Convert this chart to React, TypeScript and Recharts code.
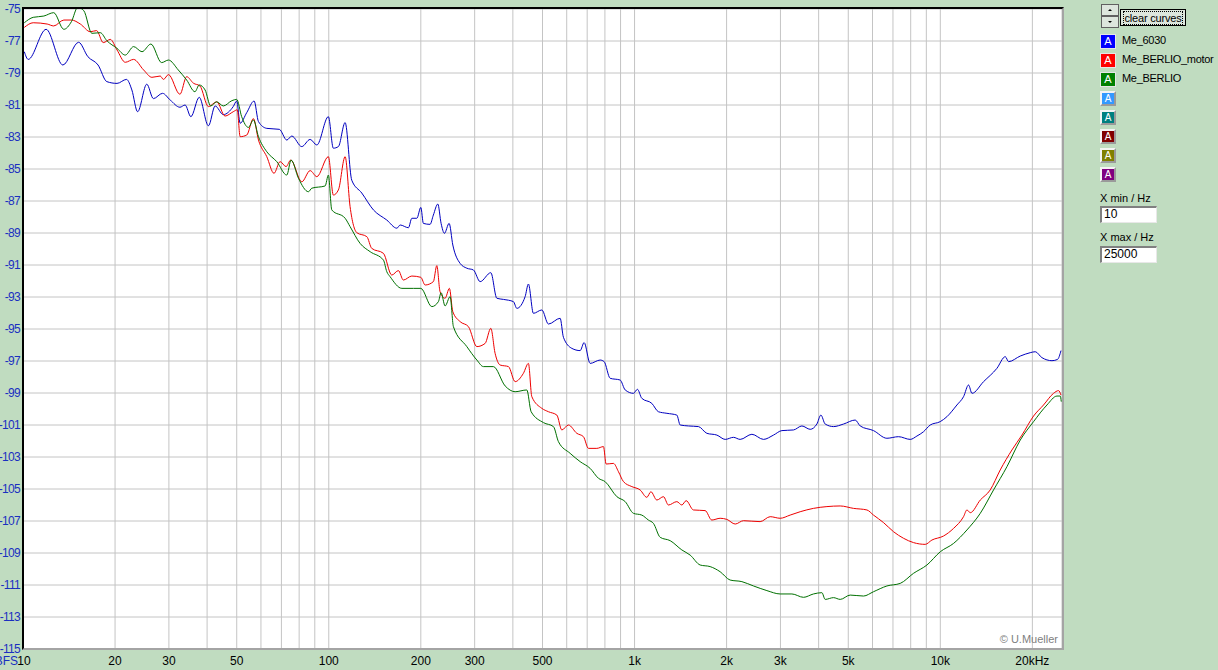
import React from "react";
import { LineChart, Line, XAxis, YAxis, CartesianGrid } from "recharts";

// ---------- data ----------
const blueFreq = [10.1, 10.4, 11.9, 13.5, 15.2, 16.3, 17.6, 18.8, 20.3, 21.8, 22.7, 23.7, 25.4, 26.7, 28.6, 30.3, 32.6, 33.9, 35.4, 37.7, 40.4, 42.5, 45.2, 48.7, 50.0, 51.3, 53.9, 57.0, 58.9, 62.7, 68.9, 72.9, 75.7, 81.6, 86.9, 91.4, 99.7, 103.5, 107.5, 113.1, 118.9, 128.2, 140, 154.8, 167, 171.2, 182.2, 186.9, 194.1, 200, 203.9, 214.4, 219.8, 227.3, 233, 238.9, 247.5, 254.5, 268.9, 282.8, 297.2, 312.6, 338.8, 354.5, 372.6, 401.7, 412.1, 438.6, 449.7, 466.9, 497.6, 522.9, 571, 585.4, 623.6, 663.8, 684.1, 715.7, 771.8, 795.4, 832.2, 897.4, 932, 991.7, 1022, 1056, 1139, 1197, 1276, 1375, 1410, 1501, 1619, 1724, 1859, 1979, 2106, 2215, 2420, 2641, 2847, 3033, 3310, 3526, 3753, 3947, 4068, 4202, 4474, 4825, 5268, 5470, 6046, 6689, 7299, 7972, 8384, 8812, 9268, 9992, 10510, 11330, 11910, 12370, 12690, 13850, 15310, 16310, 16720, 18260, 19680, 20440, 21490, 23180, 24180, 24810];
const blueDb = [-77.67, -78.15, -76.27, -78.5, -77.08, -77.98, -78.5, -79.54, -79.65, -79.4, -80.06, -81.42, -79.7, -80.6, -80.27, -80.69, -81.14, -81.0, -81.73, -80.52, -82.3, -81.06, -81.6, -81.1, -80.75, -82.14, -81.48, -80.75, -82.04, -82.46, -82.52, -83.19, -82.94, -83.6, -83.15, -83.5, -81.73, -83.7, -83.6, -82.1, -85.7, -86.5, -87.56, -88.19, -88.7, -88.5, -88.67, -88.08, -88.08, -87.4, -88.4, -88.46, -87.88, -87.19, -88.4, -89.02, -88.4, -89.75, -90.9, -91.2, -91.31, -92.04, -91.48, -93.08, -93.15, -93.29, -93.71, -92.98, -92.19, -94.02, -93.81, -94.69, -94.33, -95.52, -96.21, -96.35, -95.85, -97.15, -96.94, -97.04, -98.08, -98.19, -98.81, -99.02, -98.77, -99.33, -99.65, -100.17, -100.27, -100.38, -101.0, -101.06, -101.1, -101.52, -101.63, -101.9, -101.77, -101.9, -101.58, -101.9, -101.63, -101.35, -101.31, -101.06, -101.27, -100.94, -100.38, -100.94, -101.1, -100.94, -100.69, -101.06, -101.35, -101.83, -101.73, -101.9, -101.69, -101.42, -101.0, -100.79, -100.48, -99.75, -99.23, -98.5, -99.02, -98.29, -97.46, -96.73, -97.04, -96.69, -96.48, -96.42, -96.79, -96.98, -96.9, -96.35];

const redFreq = [10.1, 10.8, 12.0, 12.6, 13.6, 14.4, 15.4, 16.6, 17.4, 18.3, 19.3, 20.3, 21.6, 23.0, 24.8, 26.4, 28.1, 28.8, 29.9, 32.6, 34.3, 36.1, 37.9, 40.4, 43.0, 45.8, 48.7, 50.2, 51.3, 53.9, 56.7, 58.9, 62.7, 66.2, 69.3, 72.5, 75.1, 81.6, 86.9, 91.4, 99.7, 103.5, 107.5, 113.1, 117.4, 123.5, 133.2, 138.2, 150.9, 160.7, 168.9, 175.4, 186.9, 200, 206.6, 219.8, 225.6, 231.2, 240.1, 248, 254.5, 268.9, 286.2, 305, 324.6, 338.8, 349.9, 363.4, 386.9, 406.9, 433, 449.7, 461.4, 497.6, 522.9, 557, 578.4, 607.8, 647.5, 680.5, 706.7, 752.8, 791.2, 807.4, 853.2, 886, 920, 979.9, 1043, 1097, 1131, 1183, 1243, 1291, 1375, 1428, 1475, 1558, 1702, 1789, 1905, 2004, 2134, 2271, 2575, 2777, 2994, 3228, 3481, 3847, 4257, 4706, 5200, 5754, 6046, 6520, 7031, 7579, 8172, 8926, 9387, 10240, 11050, 11910, 12220, 12530, 13510, 14560, 15700, 17150, 18490, 20180, 21750, 23460, 24360, 24810];
const redDb = [-76.15, -75.86, -75.94, -76.06, -75.69, -75.69, -75.94, -76.42, -76.35, -77.1, -76.9, -77.56, -78.33, -78.15, -78.81, -79.27, -79.19, -79.4, -79.1, -80.33, -79.23, -79.64, -79.81, -81.1, -80.8, -81.69, -81.42, -81.3, -82.98, -82.88, -81.85, -83.19, -84.23, -85.27, -84.54, -84.85, -84.44, -85.8, -85.1, -85.48, -84.23, -86.63, -86.31, -84.23, -87.35, -88.98, -89.23, -89.96, -90.27, -91.63, -91.35, -91.94, -91.69, -91.77, -92.25, -92.04, -91.04, -92.67, -93.08, -92.46, -93.92, -94.54, -94.85, -96.1, -95.9, -94.96, -96.52, -97.25, -97.35, -98.29, -97.77, -97.15, -99.23, -99.96, -100.17, -100.38, -101.31, -101.0, -101.52, -101.73, -102.46, -102.46, -102.35, -103.44, -103.4, -103.92, -104.54, -104.85, -105.06, -105.52, -105.17, -105.69, -105.48, -106.0, -105.79, -106.0, -105.73, -106.31, -106.35, -106.94, -106.83, -106.9, -107.19, -106.98, -107.04, -106.73, -106.83, -106.63, -106.42, -106.21, -106.1, -106.06, -106.21, -106.31, -106.63, -107.1, -107.67, -108.08, -108.35, -108.46, -108.19, -107.94, -107.46, -106.73, -106.31, -106.48, -105.69, -105.06, -103.81, -102.56, -101.63, -100.44, -99.75, -99.02, -98.85, -99.13];

const greenFreq = [10.1, 10.8, 11.7, 12.6, 13.6, 14.4, 15.1, 15.8, 16.8, 17.9, 18.8, 20.3, 21.6, 23.0, 24.5, 26.2, 28.4, 29.9, 32.2, 34.3, 36.5, 37.7, 39.4, 41.1, 43.0, 45.2, 48.2, 50.0, 51.9, 54.6, 56.7, 58.9, 62.7, 67.6, 72.9, 75.3, 79.6, 85.8, 88.0, 97.3, 99.7, 102.3, 113.1, 117.4, 126.6, 136.6, 150.9, 154.8, 158.7, 173.4, 189.2, 200, 217.3, 228.3, 233, 240.1, 249.4, 255.6, 282.8, 305, 320.5, 345.4, 377.4, 406.9, 444.3, 459, 503.6, 542.9, 563.7, 615.6, 663.8, 715.7, 762, 801.3, 875.4, 932, 991.7, 1056, 1110, 1153, 1213, 1308, 1428, 1520, 1639, 1767, 1905, 2054, 2244, 2449, 2709, 2994, 3270, 3569, 3847, 4099, 4202, 4474, 4706, 5073, 5607, 6046, 6689, 7393, 8172, 9041, 10000, 11050, 12220, 13510, 14930, 16520, 18260, 20180, 22320, 24070, 24680, 24860];
const greenDb = [-75.86, -75.52, -75.44, -75.23, -76.27, -75.79, -74.9, -75.1, -76.52, -76.48, -76.98, -77.46, -77.88, -77.35, -77.67, -77.19, -78.35, -78.19, -78.81, -79.44, -80.17, -79.75, -80.06, -81.06, -80.8, -81.06, -80.73, -80.65, -81.73, -82.4, -81.94, -82.98, -83.92, -84.54, -85.38, -84.44, -85.58, -86.42, -86.2, -86.06, -85.38, -87.56, -88.08, -88.6, -89.65, -90.17, -90.69, -91.42, -91.73, -92.46, -92.46, -92.46, -93.6, -93.29, -92.73, -93.56, -92.98, -94.85, -96.1, -96.94, -97.35, -97.35, -98.56, -98.92, -98.81, -100.17, -100.85, -101.1, -102.04, -102.77, -103.29, -103.71, -104.33, -104.54, -105.48, -105.79, -106.52, -106.63, -106.94, -107.15, -108.02, -108.23, -108.81, -109.13, -109.75, -109.85, -110.17, -110.69, -110.79, -111.06, -111.35, -111.56, -111.56, -111.77, -111.56, -111.48, -111.9, -111.79, -111.9, -111.63, -111.69, -111.42, -111.06, -110.9, -110.27, -109.75, -108.92, -108.4, -107.56, -106.52, -105.06, -103.6, -101.94, -100.79, -99.75, -99.19, -99.19, -99.54];

const xGridTicks = [10, 20, 30, 40, 50, 60, 70, 80, 90, 100, 200, 300, 400, 500, 600, 700, 800, 900, 1000, 2000, 3000, 4000, 5000, 6000, 7000, 8000, 9000, 10000, 20000];
const xLabelValues = [10, 20, 30, 50, 100, 200, 300, 500, 1000, 2000, 3000, 5000, 10000, 20000];
const xLabelTexts = ["10", "20", "30", "50", "100", "200", "300", "500", "1k", "2k", "3k", "5k", "10k", "20kHz"];
const yTicks = [-75, -77, -79, -81, -83, -85, -87, -89, -91, -93, -95, -97, -99, -101, -103, -105, -107, -109, -111, -113, -115];

const curveNames = ["Me_6030", "Me_BERLIO_motor", "Me_BERLIO", "", "", "", "", ""];
const curveColors = ["#0000ff", "#ff0000", "#008000", "#3399ff", "#008080", "#800000", "#808000", "#800080"];
const lineColors = ["#0000c0", "#ee0000", "#007000"];

const toPoints = (fs: number[], vs: number[]) => fs.map((f, i) => ({ f, v: vs[i] }));
const blueData = toPoints(blueFreq, blueDb);
const redData = toPoints(redFreq, redDb);
const greenData = toPoints(greenFreq, greenDb);

const FONT = '"Liberation Sans", Arial, sans-serif';
const AXIS_BLUE = "#1a2fc0";
const BG = "#c0dcc0";

const XTick = (props: any) => {
  const { x, y, payload } = props;
  const idx = xLabelValues.indexOf(payload.value);
  if (idx < 0) return <g />;
  const isFirst = payload.value === 10;
  return (
    <g>
      {isFirst && (
        <text x={x - 5} y={y + 16} textAnchor="end" fill={AXIS_BLUE} fontSize={12} fontFamily={FONT}>
          dBFS
        </text>
      )}
      <text x={isFirst ? x + 1 : x} y={y + 16} textAnchor="middle" fill="#000" fontSize={12} fontFamily={FONT}>
        {xLabelTexts[idx]}
      </text>
    </g>
  );
};

const YTick = (props: any) => {
  const { x, y, payload } = props;
  return (
    <text x={x} y={y + 4} textAnchor="end" fill={AXIS_BLUE} fontSize={12} letterSpacing={-0.7} fontFamily={FONT}>
      {String(payload.value)}
    </text>
  );
};

const SpinButton = () => (
  <svg width={18} height={24} style={{ position: "absolute", left: 1101, top: 4 }}>
    <rect x={0.5} y={0.5} width={17} height={11} fill="#dde6dd" stroke="#606060" />
    <rect x={0.5} y={12.5} width={17} height={11} fill="#dde6dd" stroke="#606060" />
    <polygon points="7,7 11,7 9,5" fill="#000" />
    <polygon points="7,17 11,17 9,19" fill="#000" />
  </svg>
);

const LegendBox = ({ i }: { i: number }) => {
  const active = curveNames[i] !== "";
  const top = 34 + 19 * i;
  return (
    <div style={{ position: "absolute", left: 1100, top, height: 16 }}>
      {active ? (
        <div
          style={{
            width: 16,
            height: 15,
            background: curveColors[i],
            border: "1px solid #e6e6e6",
            boxSizing: "border-box",
            color: "#fff",
            fontSize: 11,
            lineHeight: "13px",
            textAlign: "center",
            fontFamily: FONT,
          }}
        >
          A
        </div>
      ) : (
        <div
          style={{
            width: 16,
            height: 15,
            boxSizing: "border-box",
            borderTop: "2px solid #f4f4f4",
            borderLeft: "2px solid #f4f4f4",
            borderRight: "2px solid #9a9a9a",
            borderBottom: "2px solid #9a9a9a",
            background: "#d8d8d8",
            padding: 0,
          }}
        >
          <div
            style={{
              width: 12,
              height: 11,
              background: curveColors[i],
              color: "#fff",
              fontSize: 10,
              lineHeight: "11px",
              textAlign: "center",
              fontFamily: FONT,
            }}
          >
            A
          </div>
        </div>
      )}
      {active && (
        <div
          style={{
            position: "absolute",
            left: 22,
            top: 0,
            whiteSpace: "nowrap",
            fontSize: 11,
            letterSpacing: -0.3,
            lineHeight: "13px",
            color: "#000",
            fontFamily: FONT,
          }}
        >
          {curveNames[i]}
        </div>
      )}
    </div>
  );
};

const inputStyle = (top: number): React.CSSProperties => ({
  position: "absolute",
  left: 1100,
  top,
  width: 57,
  height: 17,
  boxSizing: "border-box",
  background: "#fff",
  borderTop: "2px solid #808080",
  borderLeft: "2px solid #808080",
  borderRight: "1px solid #e8e8e8",
  borderBottom: "1px solid #e8e8e8",
  fontSize: 12,
  lineHeight: "13px",
  paddingLeft: 2,
  fontFamily: FONT,
  color: "#000",
});

const labelStyle = (top: number): React.CSSProperties => ({
  position: "absolute",
  left: 1100,
  top,
  fontSize: 11,
  lineHeight: "13px",
  fontFamily: FONT,
  color: "#000",
  whiteSpace: "nowrap",
});

export default function App() {
  return (
    <div
      style={{
        position: "absolute",
        left: 0,
        top: 0,
        width: 1218,
        height: 670,
        background: BG,
        overflow: "hidden",
        fontFamily: FONT,
      }}
    >
      <div style={{ position: "absolute", left: 0, top: 0 }}>
        <LineChart width={1070} height={670} margin={{ top: 9, right: 8, bottom: 0, left: 0 }}>
          <CartesianGrid fill="#ffffff" stroke="#c4c4c4" strokeWidth={1} />
          <XAxis
            dataKey="f"
            type="number"
            scale="log"
            domain={[10, 25000]}
            allowDataOverflow
            ticks={xGridTicks}
            interval={0}
            tick={<XTick />}
            tickLine={false}
            axisLine={false}
            tickSize={0}
            tickMargin={0}
            height={21}
          />
          <YAxis
            type="number"
            domain={[-115, -75]}
            allowDataOverflow
            ticks={yTicks}
            interval={0}
            tick={<YTick />}
            tickLine={false}
            axisLine={false}
            tickSize={0}
            tickMargin={3}
            width={23}
          />
          <Line data={blueData} dataKey="v" stroke={lineColors[0]} strokeWidth={1} dot={false} isAnimationActive={false} type="monotone" />
          <Line data={redData} dataKey="v" stroke={lineColors[1]} strokeWidth={1} dot={false} isAnimationActive={false} type="monotone" />
          <Line data={greenData} dataKey="v" stroke={lineColors[2]} strokeWidth={1} dot={false} isAnimationActive={false} type="monotone" />
        </LineChart>
      </div>

      {/* sunken plot frame */}
      <div
        style={{
          position: "absolute",
          left: 22,
          top: 7,
          width: 1042,
          height: 643,
          boxSizing: "border-box",
          borderLeft: "2px solid #000",
          borderTop: "2px solid #000",
          borderRight: "2px solid #a4a4a4",
          borderBottom: "2px solid #a4a4a4",
          pointerEvents: "none",
        }}
      />

      <div
        style={{
          position: "absolute",
          right: 160,
          top: 633,
          fontSize: 11,
          color: "#808080",
          fontFamily: FONT,
          whiteSpace: "nowrap",
        }}
      >
        © U.Mueller
      </div>

      {/* right control panel */}
      <SpinButton />
      <div
        style={{
          position: "absolute",
          left: 1120,
          top: 9,
          width: 66,
          height: 17,
          boxSizing: "border-box",
          border: "1px solid #000",
          background: "#dde6dd",
          fontSize: 11,
          fontFamily: FONT,
          display: "flex",
          alignItems: "center",
          justifyContent: "center",
        }}
      >
        <span style={{ outline: "1px dotted #000", lineHeight: "12px", padding: "0 1px", letterSpacing: -0.2 }}>clear curves</span>
      </div>

      {curveNames.map((_, i) => (
        <LegendBox key={i} i={i} />
      ))}

      <div style={labelStyle(192)}>X min / Hz</div>
      <div style={inputStyle(206)}>10</div>
      <div style={labelStyle(231)}>X max / Hz</div>
      <div style={inputStyle(246)}>25000</div>
    </div>
  );
}
